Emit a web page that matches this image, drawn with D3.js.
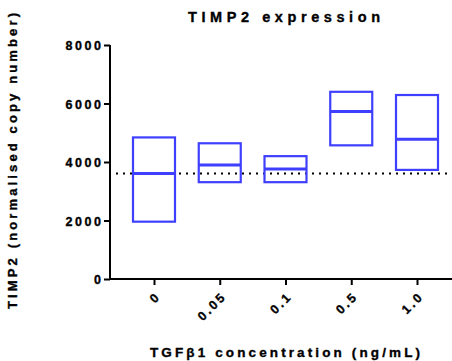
<!DOCTYPE html>
<html>
<head>
<meta charset="utf-8">
<script src="https://cdn.jsdelivr.net/npm/d3@7/dist/d3.min.js"></script>
<style>
  html, body { margin: 0; padding: 0; background: #fff; }
  svg { display: block; }
  text { font-family: "Liberation Sans", Arial, sans-serif; font-weight: bold; fill: #000; stroke: #000; stroke-width: 0.35px; }
</style>
</head>
<body>
<svg id="chart" width="452" height="361"></svg>
<script>
// TGF-beta1 concentrations (ng/mL)
const categories = ["0", "0.05", "0.1", "0.5", "1.0"];
// Floating bars: min, max and mean line per concentration
const lows  = [1960, 3310, 3310, 4570, 3730];
const highs = [4840, 4640, 4200, 6400, 6290];
const means = [3610, 3900, 3760, 5730, 4780];
// Control level shown as a dotted reference line
const controlLevel = 3610;
const yTicks = [0, 2000, 4000, 6000, 8000];

const svg = d3.select("#chart");
const blue = "#3f3fff";

const y = d3.scaleLinear().domain([0, 8000]).range([279, 45]);
const x = d3.scalePoint().domain(categories).range([154, 417]);
const boxW = 42;

// Y axis
const yAxis = svg.append("g").attr("transform", "translate(110,0)")
  .call(d3.axisLeft(y).tickValues(yTicks).tickSize(6).tickSizeOuter(0).tickFormat(d3.format("d")));
yAxis.select(".domain").remove();
yAxis.selectAll(".tick line").attr("stroke", "#000").attr("stroke-width", 2);
yAxis.selectAll(".tick text").attr("font-size", 12.5).attr("font-family", null).attr("fill", null)
  .style("letter-spacing", "2.6px").attr("x", -9).attr("dx", 2.6).attr("dy", "0.36em");
svg.append("line").attr("x1", 110).attr("x2", 110).attr("y1", y(8000)).attr("y2", y(0) + 1)
  .attr("stroke", "#000").attr("stroke-width", 2);

// X axis
const xAxis = svg.append("g").attr("transform", `translate(0,${y(0)})`)
  .call(d3.axisBottom(x).tickSize(6).tickSizeOuter(0));
xAxis.select(".domain").remove();
xAxis.selectAll(".tick line").attr("stroke", "#000").attr("stroke-width", 2);
xAxis.selectAll(".tick text").attr("font-size", 12.5).attr("font-family", null).attr("fill", null)
  .style("letter-spacing", "2.6px")
  .attr("text-anchor", "end").attr("x", 0).attr("y", 0).attr("dy", 0)
  .attr("transform", "translate(7,18) rotate(-45)");
svg.append("line").attr("x1", 109).attr("x2", 452).attr("y1", y(0)).attr("y2", y(0))
  .attr("stroke", "#000").attr("stroke-width", 2);

// Dotted control line
svg.append("line").attr("x1", 116).attr("x2", 452)
  .attr("y1", y(controlLevel)).attr("y2", y(controlLevel))
  .attr("stroke", "#000").attr("stroke-width", 2).attr("stroke-dasharray", "2,5");

// Floating boxes
const groups = svg.append("g").selectAll("g").data(categories).join("g");
groups.append("rect")
  .attr("x", (d) => x(d) - boxW / 2)
  .attr("y", (d, i) => y(highs[i]))
  .attr("width", boxW)
  .attr("height", (d, i) => y(lows[i]) - y(highs[i]))
  .attr("fill", "none").attr("stroke", blue).attr("stroke-width", 2.2);
groups.append("line")
  .attr("x1", (d) => x(d) - boxW / 2).attr("x2", (d) => x(d) + boxW / 2)
  .attr("y1", (d, i) => y(means[i])).attr("y2", (d, i) => y(means[i]))
  .attr("stroke", blue).attr("stroke-width", 3);

// Titles
svg.append("text").attr("x", 188).attr("y", 22).attr("font-size", 14.5)
  .attr("textLength", 192).attr("lengthAdjust", "spacing").text("TIMP2 expression");
svg.append("text").attr("x", 150).attr("y", 357).attr("font-size", 13.5)
  .attr("textLength", 270).attr("lengthAdjust", "spacing").text("TGFβ1 concentration (ng/mL)");
svg.append("text").attr("transform", "translate(16.5,309) rotate(-90)").attr("font-size", 13)
  .attr("textLength", 296).attr("lengthAdjust", "spacing").text("TIMP2 (normalised copy number)");
</script>
</body>
</html>
